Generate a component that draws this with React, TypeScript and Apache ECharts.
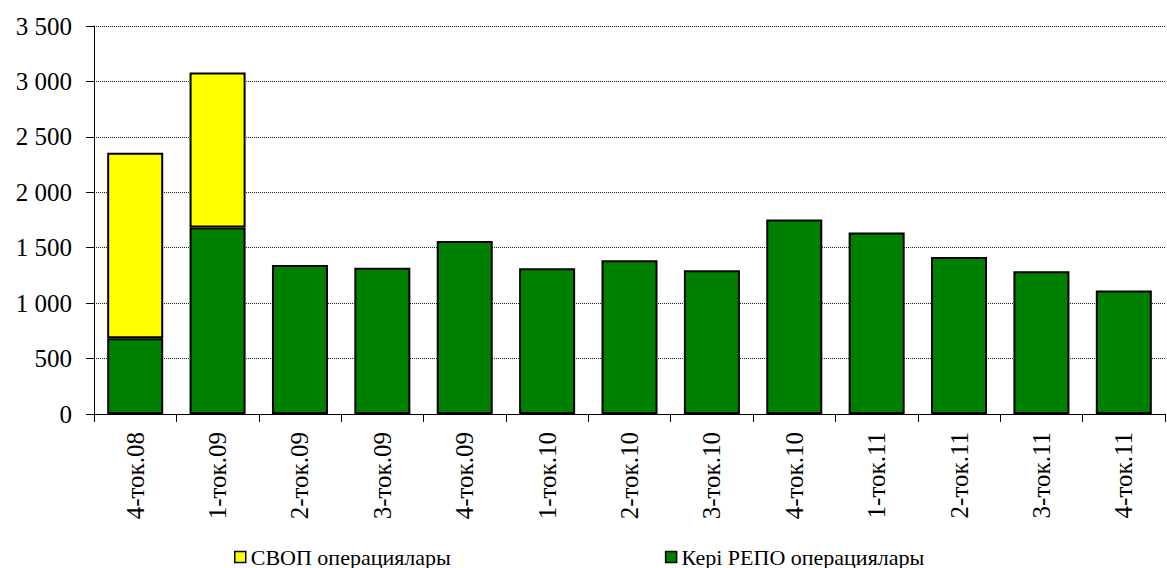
import React, { useEffect, useRef } from "react";
import * as echarts from "echarts";

// Quarters (Kazakh "тоқсан" abbreviation)
const categories = [
  "4-ток.08", "1-ток.09", "2-ток.09", "3-ток.09", "4-ток.09",
  "1-ток.10", "2-ток.10", "3-ток.10", "4-ток.10",
  "1-ток.11", "2-ток.11", "3-ток.11", "4-ток.11",
];

// Reverse REPO operations
const repoValues = [683, 1683, 1344, 1320, 1560, 1314, 1386, 1296, 1755, 1638, 1416, 1287, 1115];

// SWAP operations (stacked above REPO)
const swapValues = [1673, 1398, 0, 0, 0, 0, 0, 0, 0, 0, 0, 0, 0];

const seriesNames = ["СВОП операциялары", "Кері РЕПО операциялары"];

const fmt = (v: number) => String(v).replace(/\B(?=(\d{3})+(?!\d))/g, " ");

export default function App() {
  const ref = useRef<HTMLDivElement>(null);

  useEffect(() => {
    if (!ref.current) return;
    const chart = echarts.init(ref.current, null, { renderer: "svg" });
    const font = "Liberation Serif, Times New Roman, serif";
    chart.setOption({
      animation: false,
      textStyle: { fontFamily: font, color: "#000" },
      grid: { left: 94, right: 2, top: 26, bottom: 154, containLabel: false },
      legend: {
        left: 234,
        top: 546,
        padding: 0,
        itemWidth: 11,
        itemHeight: 11,
        itemGap: 214,
        icon: "rect",
        textStyle: { fontFamily: font, fontSize: 22, lineHeight: 22, color: "#000" },
        itemStyle: { borderColor: "#000", borderWidth: 1.5 },
        data: [seriesNames[0], seriesNames[1]],
      },
      xAxis: {
        type: "category",
        data: categories,
        boundaryGap: true,
        axisLine: { show: true, lineStyle: { color: "#000", width: 1 } },
        axisTick: { show: true, alignWithLabel: false, length: 8, lineStyle: { color: "#000" } },
        axisLabel: {
          rotate: 90,
          margin: 18,
          interval: 0,
          fontFamily: font,
          fontSize: 25,
          color: "#000",
        },
      },
      yAxis: {
        type: "value",
        min: 0,
        max: 3500,
        interval: 500,
        axisLine: { show: true, lineStyle: { color: "#000", width: 1 } },
        axisTick: { show: true, length: 8, lineStyle: { color: "#000" } },
        axisLabel: {
          margin: 22,
          fontFamily: font,
          fontSize: 25,
          color: "#000",
          formatter: (v: number) => fmt(v),
        },
        splitLine: { show: true, lineStyle: { color: "#222", type: [1, 1], width: 1 } },
      },
      series: [
        {
          name: seriesNames[1],
          type: "bar",
          stack: "total",
          barWidth: "68%",
          data: repoValues,
          itemStyle: { color: "#008000", borderColor: "#000", borderWidth: 2 },
        },
        {
          name: seriesNames[0],
          type: "bar",
          stack: "total",
          barWidth: "68%",
          data: swapValues.map((v) => (v === 0 ? null : v)),
          itemStyle: { color: "#FFFF00", borderColor: "#000", borderWidth: 2 },
        },
      ],
    });
    return () => chart.dispose();
  }, []);

  return <div ref={ref} style={{ width: 1167, height: 568, position: "absolute", left: 0, top: 0 }} />;
}
